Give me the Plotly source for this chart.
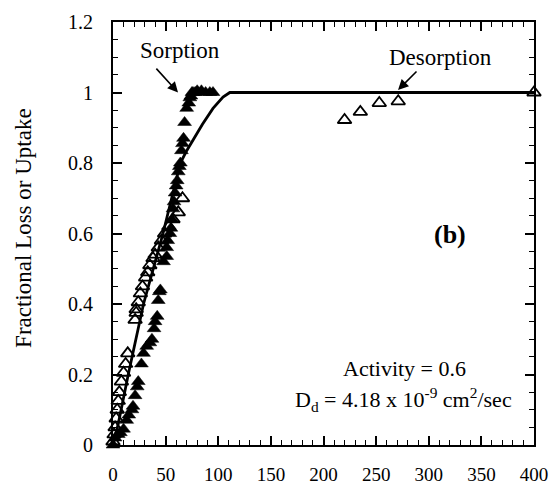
import plotly.graph_objects as go

# Sorption (filled triangles)
sorp_x = [0, 2, 5, 7, 10, 13, 15, 18, 19, 21, 23, 24, 27, 29, 32, 35, 37, 39, 40, 42,
          43, 44, 45, 48, 51, 51, 52, 54, 55, 56, 57, 58, 59, 60, 61, 62, 63, 64, 65, 66,
          67, 68, 70, 72, 73, 74, 75, 76, 78, 80, 84, 88, 92, 95]
sorp_y = [0, 0.02, 0.03, 0.035, 0.045, 0.07, 0.085, 0.10, 0.11, 0.14, 0.165, 0.18, 0.23, 0.26, 0.28,
          0.29, 0.30, 0.33, 0.35, 0.365, 0.41, 0.435, 0.44, 0.52, 0.535, 0.56, 0.58, 0.60, 0.615, 0.64,
          0.67, 0.69, 0.715, 0.735, 0.75, 0.775, 0.79, 0.80, 0.835, 0.855, 0.87, 0.915, 0.955, 0.97,
          0.985, 0.99, 1.0, 1.0, 1.0, 1.005, 1.005, 1.0, 1.0, 1.0]

# Desorption (open triangles)
desorp_x = [0, 1, 2, 3, 4, 5, 6, 8, 10, 12, 14, 21, 22, 22, 24, 26, 28, 31, 33, 35,
            38, 40, 43, 46, 49, 53, 57, 62, 66, 220, 235, 253, 271, 400]
desorp_y = [0.01, 0.03, 0.05, 0.075, 0.10, 0.125, 0.15, 0.18, 0.205, 0.23, 0.26, 0.355, 0.375, 0.385,
            0.405, 0.43, 0.45, 0.475, 0.49, 0.51, 0.53, 0.54, 0.56, 0.58, 0.60, 0.62, 0.64, 0.66, 0.70,
            0.922, 0.945, 0.97, 0.975, 1.0]

# Model curve
model_x = [0, 5, 14.5, 29, 47.5, 64, 70, 76, 85, 95, 104.5, 111, 400]
model_y = [0, 0.06, 0.2, 0.4, 0.6, 0.8, 0.835, 0.865, 0.91, 0.955, 0.987, 1.0, 1.0]

x_ticks = [0, 50, 100, 150, 200, 250, 300, 350, 400]
y_ticks = [0, 0.2, 0.4, 0.6, 0.8, 1, 1.2]
y_tick_text = ["0", "0.2", "0.4", "0.6", "0.8", "1", "1.2"]

FONT = "Liberation Serif"

fig = go.Figure()
fig.add_trace(go.Scatter(x=model_x, y=model_y, mode="lines",
                         line=dict(color="black", width=2.8), showlegend=False))
fig.add_trace(go.Scatter(x=sorp_x, y=sorp_y, mode="markers",
                         marker=dict(symbol="triangle-up", size=12, color="black",
                                     line=dict(color="black", width=0.5)),
                         showlegend=False, cliponaxis=False))
fig.add_trace(go.Scatter(x=desorp_x, y=desorp_y, mode="markers",
                         marker=dict(symbol="triangle-up-open", size=12, color="black",
                                     line=dict(color="black", width=1.8)),
                         showlegend=False, cliponaxis=False))

axis_common = dict(showline=True, linecolor="black", linewidth=2, mirror="allticks",
                   ticks="inside", tickcolor="black", tickwidth=1.5, ticklen=9,
                   showgrid=False, zeroline=False, automargin=False)

fig.update_xaxes(range=[0, 400], tickvals=x_ticks, ticklabelstandoff=11,
                 tickfont=dict(family=FONT, size=19, color="black"),
                 minor=dict(dtick=10, ticks="inside", ticklen=5, tickcolor="black", tickwidth=1.2),
                 **axis_common)
fig.update_yaxes(range=[0, 1.2], tickvals=y_ticks, ticktext=y_tick_text, ticklabelstandoff=14,
                 tickfont=dict(family=FONT, size=20, color="black"),
                 minor=dict(dtick=0.05, ticks="inside", ticklen=5, tickcolor="black", tickwidth=1.2),
                 **axis_common)

ann_font = dict(family=FONT, size=23, color="black")
fig.update_layout(
    width=553, height=489,
    margin=dict(l=113, r=19, t=22, b=44),
    paper_bgcolor="white", plot_bgcolor="white",
    annotations=[
        dict(x=-0.214, y=0.513, xref="paper", yref="paper", text="Fractional Loss or Uptake",
             textangle=-90, xanchor="center", yanchor="middle", showarrow=False,
             font=dict(family=FONT, size=23, color="black")),
        dict(x=63.7, y=1.118, xref="x", yref="y", text="Sorption", showarrow=False, font=ann_font),
        dict(x=61.8, y=1.0, xref="x", yref="y", ax=39.9, ay=1.072, axref="x", ayref="y",
             text="", showarrow=True, arrowhead=2, arrowsize=1.3, arrowwidth=1.6, arrowcolor="black"),
        dict(x=310.7, y=1.1, xref="x", yref="y", text="Desorption", showarrow=False, font=ann_font),
        dict(x=270.8, y=1.007, xref="x", yref="y", ax=289.8, ay=1.064, axref="x", ayref="y",
             text="", showarrow=True, arrowhead=2, arrowsize=1.3, arrowwidth=1.6, arrowcolor="black"),
        dict(x=320, y=0.596, xref="x", yref="y", text="<b>(b)</b>", showarrow=False,
             font=dict(family=FONT, size=26, color="black")),
        dict(x=277, y=0.218, xref="x", yref="y", text="Activity = 0.6", showarrow=False,
             font=dict(family=FONT, size=22, color="black")),
        dict(x=276, y=0.13, xref="x", yref="y",
             text="D<sub>d</sub> = 4.18 x 10<sup>-9</sup> cm<sup>2</sup>/sec",
             showarrow=False, font=dict(family=FONT, size=22, color="black")),
    ],
)

fig.write_html("out.html")
